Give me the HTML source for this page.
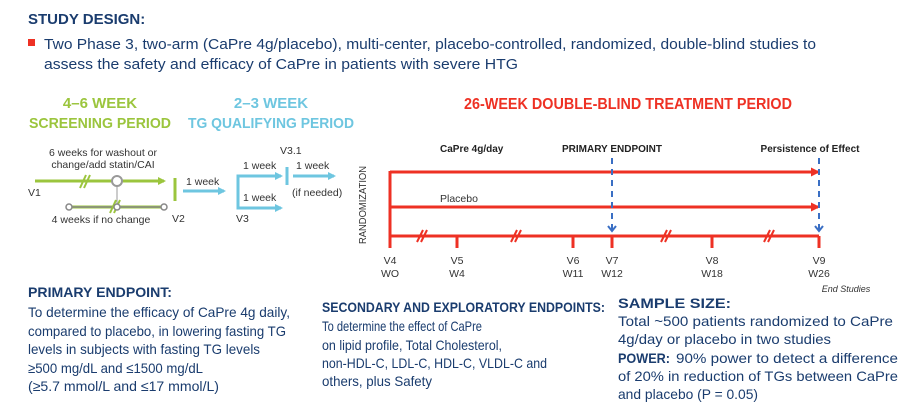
<!DOCTYPE html>
<html><head><meta charset="utf-8"><style>
html,body{margin:0;padding:0;background:#fff;}
svg{display:block;font-family:"Liberation Sans",sans-serif;}
</style></head><body>
<svg width="900" height="404" viewBox="0 0 900 404" xmlns="http://www.w3.org/2000/svg">
<defs>
<marker id="ag" markerWidth="8" markerHeight="8" refX="6" refY="4" orient="auto" markerUnits="userSpaceOnUse"><path d="M0,0 L8,4 L0,8 z" fill="#9bc53d"/></marker>
<marker id="ab" markerWidth="8" markerHeight="8" refX="6" refY="4" orient="auto" markerUnits="userSpaceOnUse"><path d="M0,0 L8,4 L0,8 z" fill="#6ec6e0"/></marker>
<marker id="ar" markerWidth="9" markerHeight="9" refX="7" refY="4.5" orient="auto" markerUnits="userSpaceOnUse"><path d="M0,0 L9,4.5 L0,9 z" fill="#ee3124"/></marker>
</defs>
<text x="28" y="24" font-size="15" font-weight="bold" fill="#1a3c6e">STUDY DESIGN:</text>
<rect x="28" y="39" width="7" height="7" fill="#ee3124"/>
<text x="44" y="49" font-size="15" fill="#1a3c6e" textLength="772" lengthAdjust="spacingAndGlyphs">Two Phase 3, two-arm (CaPre 4g/placebo), multi-center, placebo-controlled, randomized, double-blind studies to</text>
<text x="44" y="69" font-size="15" fill="#1a3c6e" textLength="474" lengthAdjust="spacingAndGlyphs">assess the safety and efficacy of CaPre in patients with severe HTG</text>

<g font-weight="bold" font-size="15" text-anchor="middle">
<text x="100" y="108" fill="#9bc53d">4–6 WEEK</text>
<text x="100" y="128" fill="#9bc53d" textLength="142" lengthAdjust="spacingAndGlyphs">SCREENING PERIOD</text>
<text x="271" y="108" fill="#6ec6e0">2–3 WEEK</text>
<text x="271" y="128" fill="#6ec6e0" textLength="166" lengthAdjust="spacingAndGlyphs">TG QUALIFYING PERIOD</text>
<text x="628" y="109" fill="#ee3124" font-size="16" textLength="328" lengthAdjust="spacingAndGlyphs">26-WEEK DOUBLE-BLIND TREATMENT PERIOD</text>
</g>

<g font-size="10.5" fill="#333">
<text x="103" y="156" text-anchor="middle">6 weeks for washout or</text>
<text x="103" y="168" text-anchor="middle">change/add statin/CAI</text>
<text x="28" y="196">V1</text>
<text x="101" y="223" text-anchor="middle">4 weeks if no change</text>
<text x="172" y="222">V2</text>
<text x="186" y="185">1 week</text>
<text x="243" y="169">1 week</text>
<text x="243" y="201">1 week</text>
<text x="236" y="222">V3</text>
<text x="280" y="154">V3.1</text>
<text x="296" y="169">1 week</text>
<text x="292" y="196">(if needed)</text>
</g>
<line x1="35" y1="181" x2="164" y2="181" stroke="#9bc53d" stroke-width="3" marker-end="url(#ag)"/>
<line x1="80" y1="188" x2="86" y2="175" stroke="#9bc53d" stroke-width="2"/>
<line x1="84" y1="188" x2="90" y2="175" stroke="#9bc53d" stroke-width="2"/>
<circle cx="117" cy="181" r="5" fill="#fff" stroke="#999" stroke-width="2"/>
<line x1="117" y1="186" x2="117" y2="207" stroke="#999" stroke-width="1"/>
<line x1="69" y1="207" x2="164" y2="207" stroke="#9bc53d" stroke-width="3"/>
<line x1="69" y1="207" x2="164" y2="207" stroke="#888" stroke-width="1.5"/>
<line x1="110" y1="213" x2="116" y2="200" stroke="#9bc53d" stroke-width="2"/>
<line x1="114" y1="213" x2="120" y2="200" stroke="#9bc53d" stroke-width="2"/>
<circle cx="69" cy="207" r="3" fill="#fff" stroke="#888" stroke-width="1.5"/>
<circle cx="117" cy="207" r="3" fill="#fff" stroke="#888" stroke-width="1.5"/>
<circle cx="164" cy="207" r="3" fill="#fff" stroke="#888" stroke-width="1.5"/>
<line x1="175" y1="178" x2="175" y2="201" stroke="#9bc53d" stroke-width="3"/>
<line x1="183" y1="191" x2="224" y2="191" stroke="#6ec6e0" stroke-width="3" marker-end="url(#ab)"/>
<path d="M281,176 L238,176 L238,208 L281,208" fill="none" stroke="#6ec6e0" stroke-width="3"/>
<line x1="270" y1="176" x2="281" y2="176" stroke="#6ec6e0" stroke-width="3" marker-end="url(#ab)"/>
<line x1="270" y1="208" x2="281" y2="208" stroke="#6ec6e0" stroke-width="3" marker-end="url(#ab)"/>
<line x1="287" y1="167" x2="287" y2="185" stroke="#6ec6e0" stroke-width="3"/>
<line x1="293" y1="176" x2="334" y2="176" stroke="#6ec6e0" stroke-width="3" marker-end="url(#ab)"/>
<text transform="translate(366,205) rotate(-90)" font-size="10" fill="#333" text-anchor="middle" textLength="78" lengthAdjust="spacingAndGlyphs">RANDOMIZATION</text>

<g stroke="#ee3124" stroke-width="3" fill="none">
<line x1="390" y1="171" x2="390" y2="248"/>
<line x1="390" y1="172" x2="818" y2="172" marker-end="url(#ar)"/>
<line x1="390" y1="207" x2="818" y2="207" marker-end="url(#ar)"/>
<line x1="390" y1="236" x2="819" y2="236"/>
<line x1="457" y1="236" x2="457" y2="248"/>
<line x1="573" y1="236" x2="573" y2="248"/>
<line x1="612" y1="236" x2="612" y2="248"/>
<line x1="712" y1="236" x2="712" y2="248"/>
<line x1="819" y1="236" x2="819" y2="248"/>
</g>
<g stroke="#ee3124" stroke-width="2">
<line x1="417" y1="242" x2="423" y2="230"/><line x1="421" y1="242" x2="427" y2="230"/>
<line x1="511" y1="242" x2="517" y2="230"/><line x1="515" y1="242" x2="521" y2="230"/>
<line x1="661" y1="242" x2="667" y2="230"/><line x1="665" y1="242" x2="671" y2="230"/>
<line x1="764" y1="242" x2="770" y2="230"/><line x1="768" y1="242" x2="774" y2="230"/>
</g>
<g stroke="#3a6fc4" stroke-width="2" fill="none">
<line x1="612" y1="158" x2="612" y2="230" stroke-dasharray="6,5"/>
<line x1="819" y1="158" x2="819" y2="230" stroke-dasharray="6,5"/>
<path d="M608,226 L612,231 L616,226"/>
<path d="M815,226 L819,231 L823,226"/>
</g>
<g font-size="10" fill="#222" font-weight="bold">
<text x="440" y="152">CaPre 4g/day</text>
<text x="612" y="152" text-anchor="middle">PRIMARY ENDPOINT</text>
<text x="810" y="152" text-anchor="middle">Persistence of Effect</text>
</g>
<g font-size="10.5" fill="#333" text-anchor="middle">
<text x="440" y="202" text-anchor="start">Placebo</text>
<text x="390" y="264">V4</text><text x="390" y="277">WO</text>
<text x="457" y="264">V5</text><text x="457" y="277">W4</text>
<text x="573" y="264">V6</text><text x="573" y="277">W11</text>
<text x="612" y="264">V7</text><text x="612" y="277">W12</text>
<text x="712" y="264">V8</text><text x="712" y="277">W18</text>
<text x="819" y="264">V9</text><text x="819" y="277">W26</text>
<text x="846" y="292" font-style="italic" font-size="9">End Studies</text>
</g>

<g font-size="14" fill="#1a3c6e">
<text x="28" y="297" font-weight="bold" textLength="144" lengthAdjust="spacingAndGlyphs">PRIMARY ENDPOINT:</text>
<text x="28" y="317" textLength="262" lengthAdjust="spacingAndGlyphs">To determine the efficacy of CaPre 4g daily,</text>
<text x="28" y="336" textLength="258" lengthAdjust="spacingAndGlyphs">compared to placebo, in lowering fasting TG</text>
<text x="28" y="354" textLength="232" lengthAdjust="spacingAndGlyphs">levels in subjects with fasting TG levels</text>
<text x="28" y="373" textLength="175" lengthAdjust="spacingAndGlyphs">≥500 mg/dL and ≤1500 mg/dL</text>
<text x="28" y="391" textLength="191" lengthAdjust="spacingAndGlyphs">(≥5.7 mmol/L and ≤17 mmol/L)</text>
<text x="322" y="312" font-weight="bold" textLength="283" lengthAdjust="spacingAndGlyphs">SECONDARY AND EXPLORATORY ENDPOINTS:</text>
<text x="322" y="331" textLength="160" lengthAdjust="spacingAndGlyphs">To determine the effect of CaPre</text>
<text x="322" y="350" textLength="180" lengthAdjust="spacingAndGlyphs">on lipid profile, Total Cholesterol,</text>
<text x="322" y="368" textLength="225" lengthAdjust="spacingAndGlyphs">non-HDL-C, LDL-C, HDL-C, VLDL-C and</text>
<text x="322" y="386" textLength="110" lengthAdjust="spacingAndGlyphs">others, plus Safety</text>
<text x="618" y="308" font-weight="bold" textLength="113" lengthAdjust="spacingAndGlyphs">SAMPLE SIZE:</text>
<text x="618" y="326" textLength="275" lengthAdjust="spacingAndGlyphs">Total ~500 patients randomized to CaPre</text>
<text x="618" y="344" textLength="213" lengthAdjust="spacingAndGlyphs">4g/day or placebo in two studies</text>
<text x="618" y="363" font-weight="bold" textLength="52" lengthAdjust="spacingAndGlyphs">POWER:</text>
<text x="676" y="363" textLength="222" lengthAdjust="spacingAndGlyphs">90% power to detect a difference</text>
<text x="618" y="381" textLength="280" lengthAdjust="spacingAndGlyphs">of 20% in reduction of TGs between CaPre</text>
<text x="618" y="399" textLength="140" lengthAdjust="spacingAndGlyphs">and placebo (P = 0.05)</text>
</g>
</svg>
</body></html>
